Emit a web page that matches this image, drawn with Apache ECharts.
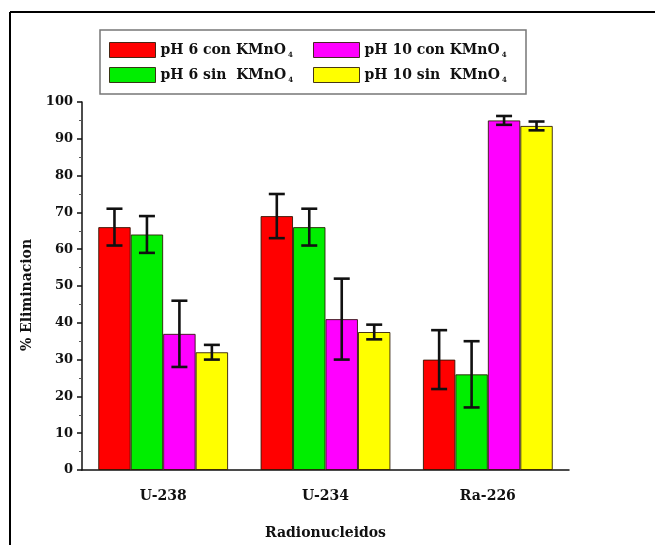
<!DOCTYPE html>
<html>
<head>
<meta charset="utf-8">
<script src="https://cdn.jsdelivr.net/npm/echarts@6/dist/echarts.min.js"></script>
<style>
  html, body { margin: 0; padding: 0; background: #fff; }
  #chart { width: 655px; height: 545px; }
</style>
</head>
<body>
<div id="chart"></div>
<script>
// Radionuclide removal (%) under four treatment conditions
const categories = ['U-238', 'U-234', 'Ra-226'];

const seriesNames = ['pH 6 con KMnO4', 'pH 6 sin  KMnO4', 'pH 10 con KMnO4', 'pH 10 sin  KMnO4'];

const ph6Con = [66, 69, 30];
const ph6ConErr = [5, 6, 8];

const ph6Sin = [64, 66, 26];
const ph6SinErr = [5, 5, 9];

const ph10Con = [37, 41, 95];
const ph10ConErr = [9, 11, 1.2];

const ph10Sin = [32, 37.5, 93.5];
const ph10SinErr = [2, 2, 1.2];

const yTicks = [0, 10, 20, 30, 40, 50, 60, 70, 80, 90, 100];

const colors = ['#ff0000', '#00ee00', '#ff00ff', '#ffff00'];
const values = [ph6Con, ph6Sin, ph10Con, ph10Sin];
const errors = [ph6ConErr, ph6SinErr, ph10ConErr, ph10SinErr];

const FONT = '"DejaVu Serif", "Liberation Serif", serif';
const BAR_GAP_RATIO = 0.2; // barCategoryGap
const N_SERIES = values.length;

// Renders the vertical error whisker with caps at the centre of bar #idx
function errorRenderer(idx) {
  return function (params, api) {
    const cat = api.value(0);
    const lo = api.coord([cat, api.value(1)]);
    const hi = api.coord([cat, api.value(2)]);
    const band = api.size([1, 0])[0];
    const barW = band * (1 - BAR_GAP_RATIO) / N_SERIES;
    const x = lo[0] + (idx - (N_SERIES - 1) / 2) * barW;
    const cap = 8;
    const style = { stroke: '#111', lineWidth: 2.6, fill: null };
    return {
      type: 'group',
      children: [
        { type: 'line', shape: { x1: x, y1: lo[1], x2: x, y2: hi[1] }, style },
        { type: 'line', shape: { x1: x - cap, y1: lo[1], x2: x + cap, y2: lo[1] }, style },
        { type: 'line', shape: { x1: x - cap, y1: hi[1], x2: x + cap, y2: hi[1] }, style }
      ]
    };
  };
}

const series = [];
values.forEach((vals, i) => {
  series.push({
    name: seriesNames[i],
    type: 'bar',
    xAxisIndex: 0,
    barGap: '0%',
    barCategoryGap: (BAR_GAP_RATIO * 100) + '%',
    itemStyle: { color: colors[i], borderColor: 'rgba(40,20,0,0.85)', borderWidth: 1 },
    data: vals,
    z: 2
  });
});
values.forEach((vals, i) => {
  series.push({
    type: 'custom',
    xAxisIndex: 0,
    renderItem: errorRenderer(i),
    encode: { x: 0, y: [1, 2] },
    data: vals.map((v, k) => [k, v - errors[i][k], v + errors[i][k]]),
    z: 5,
    silent: true
  });
});

// Legend label: trailing "4" drawn as a subscript
function legendLabel(name) {
  return name.replace(/4$/, '') + '{sub|4}';
}

const legendText = {
  fontFamily: FONT,
  fontWeight: 'bold',
  fontSize: 14,
  color: '#111',
  rich: {
    sub: { fontFamily: FONT, fontWeight: 'bold', fontSize: 7, color: '#111', padding: [10, 0, 0, 2] }
  }
};

const legendPos = [[109, 42], [109, 67], [313, 42], [313, 67]];
const legends = seriesNames.map((n, i) => ({
  data: [n],
  left: legendPos[i][0],
  top: legendPos[i][1],
  padding: 0,
  icon: 'rect',
  itemWidth: 46,
  itemHeight: 15,
  itemStyle: { borderColor: 'rgba(40,20,0,0.85)', borderWidth: 1 },
  selectedMode: false,
  formatter: legendLabel,
  textStyle: legendText
}));

const chart = echarts.init(document.getElementById('chart'), null, { renderer: 'canvas' });
chart.setOption({
  animation: false,
  backgroundColor: '#fff',
  color: colors,
  grid: { left: 82, right: 86, top: 102, bottom: 69 },
  legend: legends,
  graphic: [
    { type: 'line', shape: { x1: 10, y1: 12, x2: 10, y2: 545 }, style: { stroke: '#000', lineWidth: 2 } },
    { type: 'line', shape: { x1: 10, y1: 12, x2: 655, y2: 12 }, style: { stroke: '#000', lineWidth: 2 } },
    { type: 'rect', shape: { x: 100, y: 30, width: 426, height: 64 },
      style: { fill: 'none', stroke: '#777', lineWidth: 1.5 }, z: -1 }
  ],
  xAxis: [
    {
      type: 'category',
      data: categories,
      name: 'Radionucleidos',
      nameLocation: 'middle',
      nameGap: 56,
      nameTextStyle: { fontFamily: FONT, fontWeight: 'bold', fontSize: 14, color: '#111' },
      axisLine: { lineStyle: { color: '#111', width: 1.5 } },
      axisTick: { alignWithLabel: true, length: 8, lineStyle: { color: '#111', width: 1.5 } },
      axisLabel: { margin: 19, fontFamily: FONT, fontWeight: 'bold', fontSize: 14, color: '#111' }
    },
    {
      type: 'category',
      data: categories,
      position: 'bottom',
      axisLine: { show: false },
      axisTick: { length: 4, lineStyle: { color: '#111', width: 1.5 } },
      axisLabel: { show: false }
    }
  ],
  yAxis: {
    type: 'value',
    min: yTicks[0],
    max: yTicks[yTicks.length - 1],
    interval: yTicks[1] - yTicks[0],
    name: '% Eliminacion',
    nameLocation: 'middle',
    nameGap: 48,
    nameTextStyle: { fontFamily: FONT, fontWeight: 'bold', fontSize: 14, color: '#111', padding: [0, 18, 0, 0] },
    axisLine: { show: true, lineStyle: { color: '#111', width: 1.5 } },
    axisTick: { show: true, length: 5, lineStyle: { color: '#111', width: 1.5 } },
    minorTick: { show: true, splitNumber: 2, length: 3, lineStyle: { color: '#555', width: 1 } },
    splitLine: { show: false },
    axisLabel: { margin: 9, fontFamily: FONT, fontWeight: 'bold', fontSize: 13, color: '#111' }
  },
  series
});
</script>
</body>
</html>
